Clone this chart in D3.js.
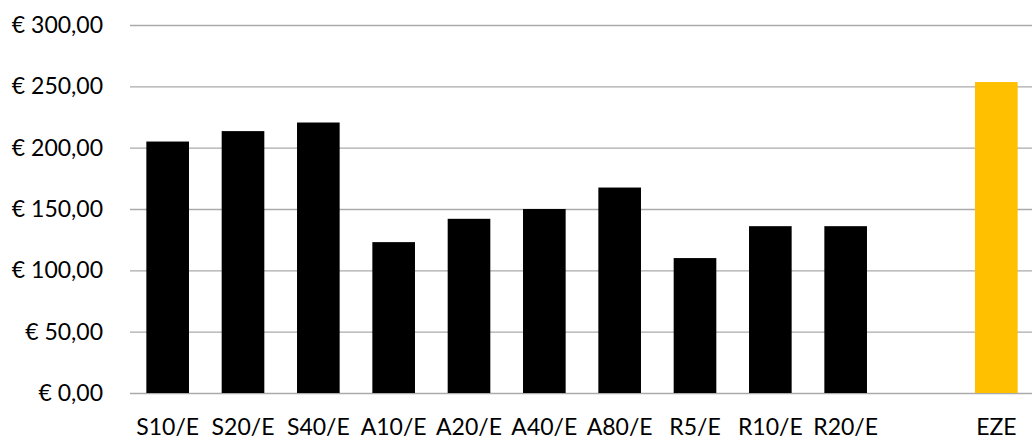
<!DOCTYPE html>
<html>
<head>
<meta charset="utf-8">
<script src="https://cdn.jsdelivr.net/npm/d3@7"></script>
<style>
  html, body { margin: 0; padding: 0; background: #fff; }
  svg { display: block; }
  text { font-family: Lato, "Open Sans", sans-serif; fill: #000; }
</style>
</head>
<body>
<svg id="chart" width="1032" height="442"></svg>
<script>
// Cost per variant; the blank entry leaves a gap before the EZE reference bar
const categories = ["S10/E", "S20/E", "S40/E", "A10/E", "A20/E", "A40/E", "A80/E", "R5/E", "R10/E", "R20/E", "", "EZE"];
const values = [205, 213.5, 220.5, 123, 142, 150, 167.5, 110, 136, 136, null, 253.5];
const barColors = ["#000000", "#000000", "#000000", "#000000", "#000000", "#000000", "#000000", "#000000", "#000000", "#000000", "#000000", "#FFC000"];
const yTicks = [0, 50, 100, 150, 200, 250, 300];

const svg = d3.select("#chart");
const margin = { left: 130, right: -2, top: 25, bottom: 49 };
const W = 1032, H = 442;

const x = d3.scaleBand()
  .domain(categories)
  .range([margin.left, W - margin.right])
  .paddingInner(0.434)
  .paddingOuter(0.217);

const y = d3.scaleLinear()
  .domain([0, 300])
  .range([H - margin.bottom, margin.top]);

const euro = v => "€ " + d3.format(",.2f")(v).replace(/,/g, "#").replace(".", ",").replace(/#/g, ".");

// Horizontal gridlines
const grid = svg.append("g")
  .attr("transform", `translate(${margin.left},0)`)
  .call(d3.axisRight(y).tickValues(yTicks).tickSize(W - margin.left).tickFormat(""));
grid.select(".domain").remove();
grid.selectAll(".tick line").attr("stroke", "#aaaaaa").attr("stroke-width", 1.3);

// Y axis labels
const yAxis = svg.append("g")
  .attr("transform", `translate(${margin.left - 27},0)`)
  .call(d3.axisLeft(y).tickValues(yTicks).tickSize(0).tickPadding(0).tickFormat(euro));
yAxis.select(".domain").remove();
yAxis.selectAll("text")
  .style("font-family", "Lato, 'Open Sans', sans-serif")
  .style("font-size", "23px")
  .attr("fill", "#000");

// Bars
const data = categories.map((c, i) => ({ c, v: values[i], color: barColors[i] })).filter(d => d.v != null);
svg.append("g").selectAll("rect")
  .data(data)
  .join("rect")
  .attr("x", d => x(d.c))
  .attr("width", x.bandwidth())
  .attr("y", d => y(d.v))
  .attr("height", d => y(0) - y(d.v))
  .attr("fill", d => d.color);

// X axis labels
const xAxis = svg.append("g")
  .attr("transform", `translate(0,${y(0)})`)
  .call(d3.axisBottom(x).tickSize(0).tickPadding(26));
xAxis.select(".domain").remove();
xAxis.selectAll("text")
  .style("font-family", "Lato, 'Open Sans', sans-serif")
  .style("font-size", "23px")
  .attr("fill", "#000");
</script>
</body>
</html>
